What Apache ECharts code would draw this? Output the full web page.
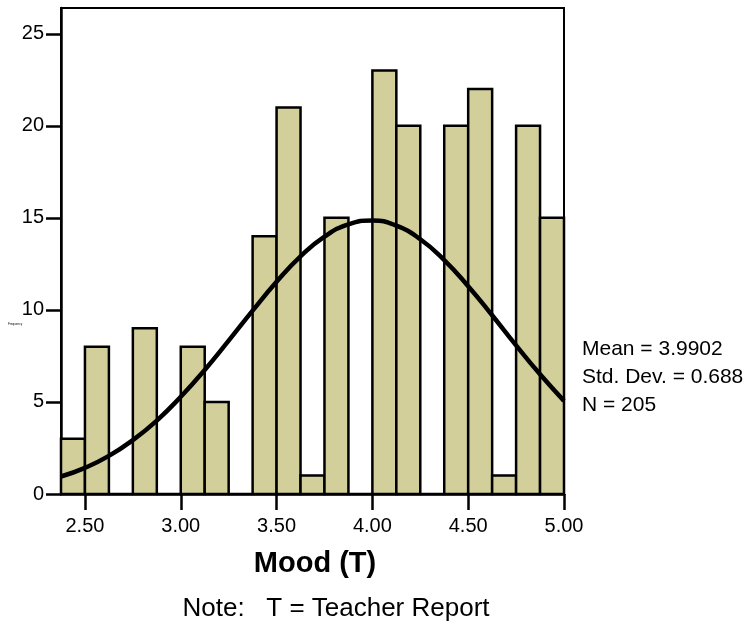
<!DOCTYPE html>
<html>
<head>
<meta charset="utf-8">
<script src="https://cdn.jsdelivr.net/npm/echarts@6/dist/echarts.min.js"></script>
<style>
  html, body { margin: 0; padding: 0; background: #fff; }
  #chart { width: 750px; height: 627px; }
</style>
</head>
<body>
<div id="chart"></div>
<script>
// histogram bins (lower edge, width 0.125) and counts
const binStart = [2.375, 2.5, 2.625, 2.75, 2.875, 3.0, 3.125, 3.25, 3.375, 3.5, 3.625,
  3.75, 3.875, 4.0, 4.125, 4.25, 4.375, 4.5, 4.625, 4.75, 4.875];
const binWidth = 0.125;
const counts = [3, 8, 0, 9, 0, 8, 5, 0, 14, 21, 1, 15, 0, 23, 20, 0, 20, 22, 1, 20, 15];

// normal curve
const curveX = [2.375, 2.5, 2.625, 2.75, 2.875, 3.0, 3.125, 3.25, 3.375, 3.5, 3.625,
  3.75, 3.875, 4.0, 4.125, 4.25, 4.375, 4.5, 4.625, 4.75, 4.875, 5.0];
const curveY = [0.95, 1.42, 2.07, 2.93, 3.99, 5.28, 6.74, 8.33, 9.96, 11.53, 12.91,
  13.98, 14.65, 14.86, 14.58, 13.84, 12.71, 11.29, 9.71, 8.07, 6.5, 5.06];

const xTicks = [2.5, 3.0, 3.5, 4.0, 4.5, 5.0];
const yTicks = [0, 5, 10, 15, 20, 25];
const statLines = ["Mean = 3.9902", "Std. Dev. = 0.688", "N = 205"];

const chart = echarts.init(document.getElementById("chart"), null, { renderer: "canvas" });
const font = "Liberation Sans, Arial, sans-serif";

const statText = statLines.map((t, i) => ({
  type: "text", x: 582, y: 349 + i * 28,
  style: { text: t, fontSize: 21, fill: "#000", fontFamily: font, textVerticalAlign: "middle" }
}));

chart.setOption({
  animation: false,
  backgroundColor: "#fff",
  grid: {
    left: 61, right: 186, top: 8, bottom: 133,
    show: true, borderColor: "#000", borderWidth: 2, backgroundColor: "transparent"
  },
  xAxis: {
    type: "value",
    min: 2.375,
    max: 5.0,
    splitLine: { show: false },
    axisLine: { show: true, onZero: false, lineStyle: { color: "#000", width: 2.5 } },
    axisTick: { show: true, length: 16, customValues: xTicks, lineStyle: { color: "#000", width: 2.5 } },
    axisLabel: {
      customValues: xTicks, margin: 22, color: "#000", fontFamily: font, fontSize: 20,
      formatter: (v) => v.toFixed(2)
    }
  },
  yAxis: {
    type: "value",
    min: 0,
    max: 26.4,
    splitLine: { show: false },
    axisLine: { show: true, lineStyle: { color: "#000", width: 2.5 } },
    axisTick: { show: true, length: 15, customValues: yTicks, lineStyle: { color: "#000", width: 2.5 } },
    axisLabel: { customValues: yTicks, margin: 17, color: "#000", fontFamily: font, fontSize: 20 }
  },
  graphic: [
    {
      type: "text", x: 8, y: 323,
      style: { text: "Frequency", fontSize: 3, fill: "#000", fontFamily: font }
    },
    {
      type: "text", x: 315, y: 564,
      style: { text: "Mood (T)", fontSize: 29, fontWeight: "bold", fill: "#000", fontFamily: font, textAlign: "center", textVerticalAlign: "middle" }
    },
    {
      type: "text", x: 336, y: 609,
      style: { text: "Note:   T = Teacher Report", fontSize: 26, fill: "#000", fontFamily: font, textAlign: "center", textVerticalAlign: "middle" }
    },
    ...statText
  ],
  series: [
    {
      type: "custom",
      data: binStart.map((x, i) => [x, x + binWidth, counts[i]]),
      renderItem: (params, api) => {
        const p0 = api.coord([api.value(0), 0]);
        const p1 = api.coord([api.value(1), api.value(2)]);
        return {
          type: "rect",
          shape: { x: p0[0], y: p1[1], width: p1[0] - p0[0], height: p0[1] - p1[1] },
          style: { fill: "#d3cf9b", stroke: "#000", lineWidth: 2.5 }
        };
      },
      z: 2
    },
    {
      type: "line",
      data: curveX.map((x, i) => [x, curveY[i]]),
      smooth: true,
      showSymbol: false,
      lineStyle: { color: "#000", width: 4.5 },
      z: 3
    }
  ]
});
</script>
</body>
</html>
